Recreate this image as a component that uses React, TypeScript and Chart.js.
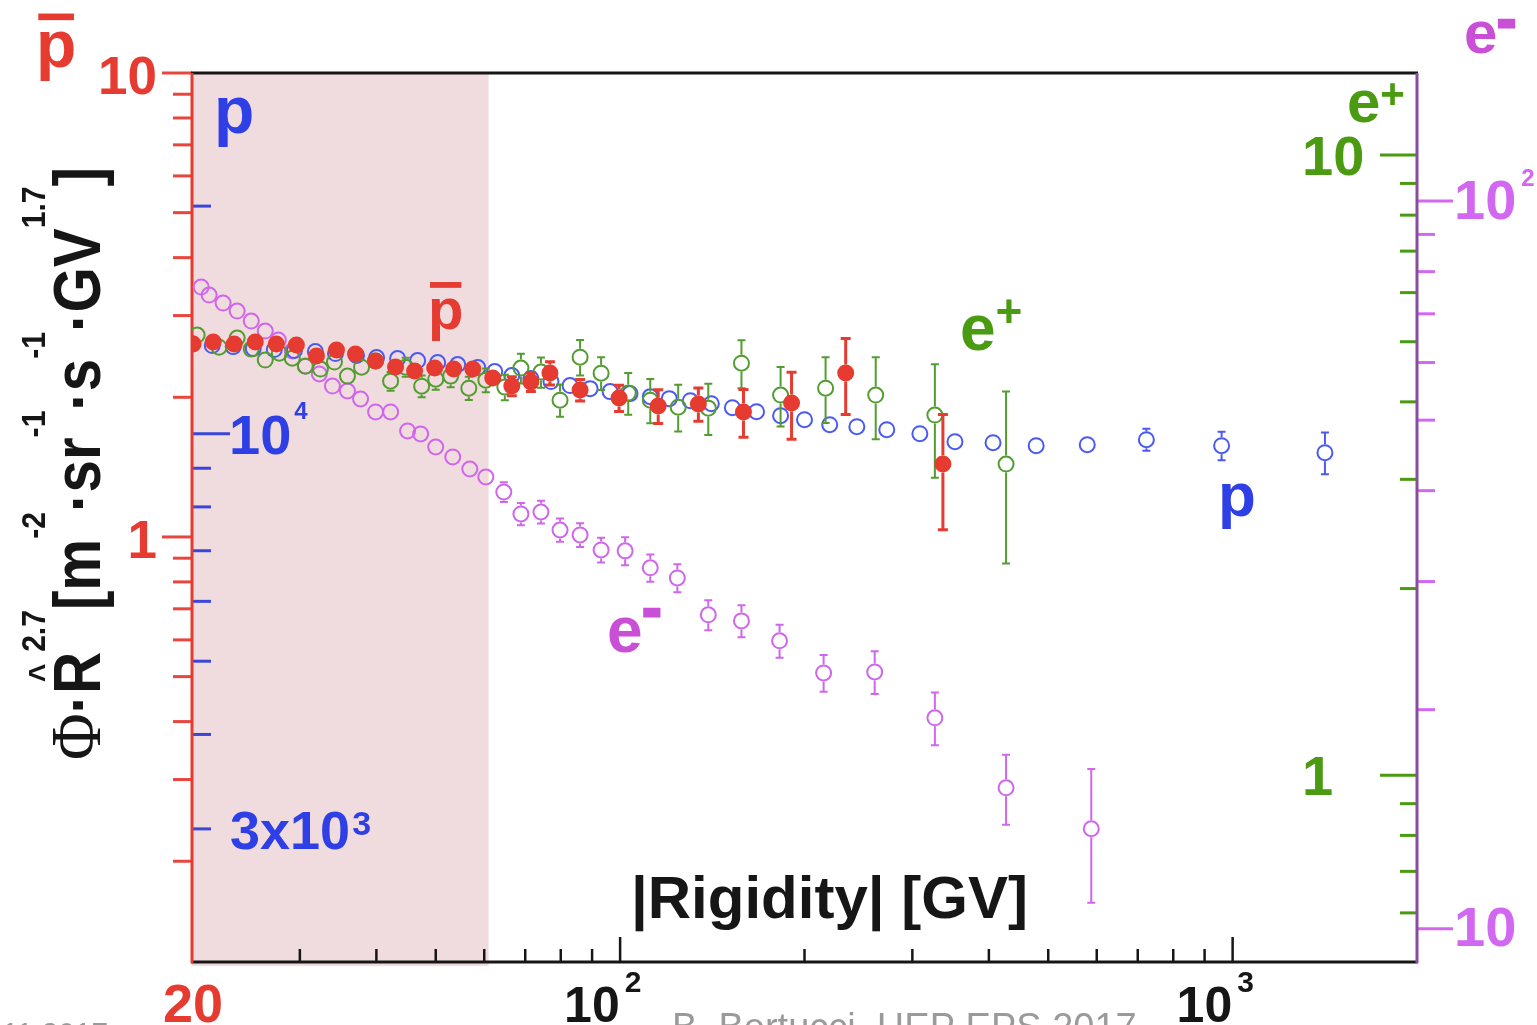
import React, { useEffect, useRef } from "react";
import { Chart, registerables } from "chart.js";

Chart.register(...registerables);

// ---------------- data ----------------
const xRange = [20, 2000];
const shadedBand = [20, 61];

const pbarRange = [0.1213, 10];
const pRange = [2000, 30000];
const eposRange = [0.5, 13.56];
const enegRange = [9, 150];

// protons (blue, open circles)
const pRigidity = [20.0, 21.58, 23.35, 25.18, 27.25, 29.39, 31.8, 34.3, 37.12, 40.03, 43.32, 46.71, 50.36, 54.3, 58.56, 62.42, 66.55, 71.5, 77.11, 82.83, 89.33, 96.3, 103.8, 112.0, 120.3, 130.2, 140.9, 152.5, 167.0, 182.8, 200.0, 219.9, 243.5, 272.5, 308.6, 352.1, 406.3, 477.8, 579.0, 723.1, 959.4, 1414.9];
const pFlux = [13155, 13078, 13036, 12960, 12920, 12880, 12840, 12764, 12687, 12610, 12570, 12494, 12418, 12343, 12230, 12082, 11935, 11826, 11720, 11576, 11470, 11366, 11297, 11194, 11126, 11058, 10957, 10824, 10693, 10564, 10436, 10278, 10216, 10122, 10000, 9759, 9729, 9641, 9670, 9819, 9641, 9437];
const pErr = [0, 0, 0, 0, 0, 0, 0, 0, 0, 0, 0, 0, 0, 0, 0, 0, 0, 0, 0, 0, 0, 0, 0, 0, 0, 0, 0, 0, 0, 0, 0, 0, 0, 0, 0, 0, 0, 0, 120, 330, 420, 600];

// antiprotons (red, filled circles)
const pbarRigidity = [20.08, 21.66, 23.44, 25.37, 27.46, 29.61, 31.93, 34.43, 36.98, 39.88, 42.99, 46.18, 49.8, 53.49, 57.47, 61.95, 66.55, 71.5, 76.81, 86.03, 99.6, 115.4, 134.2, 159.0, 190.5, 233.5, 336.5];
const pbarFlux = [2.605, 2.632, 2.605, 2.632, 2.605, 2.593, 2.455, 2.529, 2.48, 2.395, 2.325, 2.279, 2.313, 2.302, 2.302, 2.201, 2.116, 2.158, 2.257, 2.074, 1.993, 1.916, 1.935, 1.86, 1.944, 2.257, 1.437];
const pbarErr = [0.03, 0.03, 0.03, 0.03, 0.03, 0.03, 0.04, 0.04, 0.04, 0.05, 0.05, 0.05, 0.06, 0.06, 0.07, 0.08, 0.1, 0.1, 0.13, 0.11, 0.13, 0.16, 0.16, 0.22, 0.32, 0.42, 0.4];

// positrons (green, open circles)
const eposRigidity = [20.39, 22.14, 23.7, 24.99, 26.34, 27.77, 29.16, 30.63, 32.41, 34.17, 35.88, 37.83, 39.88, 42.2, 44.66, 47.42, 50.0, 52.89, 56.62, 60.36, 64.83, 68.87, 74.26, 79.78, 86.03, 93.1, 103.1, 112.0, 124.4, 139.3, 157.8, 182.8, 216.5, 261.4, 326.5, 426.7];
const eposFlux = [5.125, 4.901, 5.068, 4.865, 4.671, 4.793, 4.705, 4.567, 4.517, 4.636, 4.401, 4.55, 4.653, 4.32, 4.55, 4.24, 4.352, 4.401, 4.209, 4.336, 4.225, 4.534, 4.467, 4.025, 4.722, 4.45, 4.132, 4.025, 3.922, 3.908, 4.618, 4.102, 4.209, 4.102, 3.808, 3.175];
const eposErr = [0.08, 0.08, 0.09, 0.09, 0.1, 0.1, 0.11, 0.11, 0.12, 0.12, 0.13, 0.14, 0.14, 0.15, 0.16, 0.17, 0.17, 0.18, 0.18, 0.19, 0.2, 0.25, 0.25, 0.24, 0.31, 0.27, 0.32, 0.33, 0.34, 0.37, 0.41, 0.45, 0.51, 0.62, 0.79, 0.98];

// electrons (magenta, open circles)
const enegRigidity = [20.7, 21.33, 22.48, 23.7, 24.99, 26.34, 27.67, 29.16, 30.63, 32.28, 33.91, 35.88, 37.69, 39.88, 42.2, 44.98, 47.24, 50.0, 53.3, 56.83, 60.36, 64.58, 68.87, 74.26, 79.78, 86.03, 93.1, 101.9, 112.0, 124.0, 139.3, 157.8, 182.1, 214.9, 260.4, 326.5, 426.7, 587.8];
const enegFlux = [76.19, 74.28, 72.43, 70.62, 68.42, 66.29, 64.43, 62.23, 59.34, 57.86, 55.7, 54.83, 53.46, 51.32, 51.32, 48.32, 47.86, 45.93, 44.5, 42.84, 41.77, 39.83, 37.16, 37.39, 35.32, 34.77, 33.16, 33.06, 31.33, 30.35, 27.0, 26.49, 24.87, 22.47, 22.54, 19.49, 15.62, 13.72];
const enegErr = [0.5, 0.5, 0.5, 0.5, 0.5, 0.5, 0.5, 0.5, 0.6, 0.6, 0.6, 0.6, 0.6, 0.7, 0.7, 0.7, 0.8, 0.8, 0.8, 0.9, 0.9, 1.25, 1.3, 1.35, 1.3, 1.3, 1.3, 1.46, 1.34, 1.34, 1.28, 1.34, 1.3, 1.31, 1.53, 1.62, 1.72, 2.86];

// ticks
const xMajorTicks = [100, 1000];
const xMinorTicks = [30, 40, 50, 60, 70, 80, 90, 200, 300, 400, 500, 600, 700, 800, 900];
const pbarMajorTicks = [1, 10];
const pbarMinorTicks = [0.2, 0.3, 0.4, 0.5, 0.6, 0.7, 0.8, 0.9, 2, 3, 4, 5, 6, 7, 8, 9];
const pMajorTicks = [10000];
const pMinorTicks = [3000, 4000, 5000, 6000, 7000, 8000, 9000, 20000];
const eposMajorTicks = [1, 10];
const eposMinorTicks = [0.6, 0.7, 0.8, 0.9, 2, 3, 4, 5, 6, 7, 8, 9];
const enegMajorTicks = [10, 100];
const enegMinorTicks = [20, 30, 40, 50, 60, 70, 80, 90];

// tick labels
const xLabelValues = [100, 1000];
const xLabelBases = ["10", "10"];
const xLabelSups = ["2", "3"];
const pbarLabelValues = [10, 1];
const pbarLabelTexts = ["10", "1"];
const eposLabelValues = [10, 1];
const eposLabelTexts = ["10", "1"];

const xTitle = "|Rigidity| [GV]";
const footerText = "B. Bertucci, HEP EPS 2017";
const dateText = "11.2017";

// ---------------- style ----------------
const C = {
  red: "#e63b30",
  redTick: "#e8463c",
  blue: "#2f3fe6",
  blueMarker: "#4a5af2",
  blueTick: "#3a46d8",
  green: "#4a9a12",
  greenMarker: "#529c30",
  magenta: "#c950d6",
  magentaMarker: "#cf66ec",
  magentaTick: "#d268f2",
  purpleAxis: "#8a4c9e",
  shade: "#f0dcde",
  black: "#161616",
  gray: "#9a9a9a",
};

const SANS = '"Liberation Sans", Arial, Helvetica, sans-serif';
const SERIF = '"Liberation Serif", "Times New Roman", serif';
const f = (size: number, bold = true, fam = SANS) => `${bold ? "bold " : ""}${size}px ${fam}`;

type Seg = { t: string; font: string; dy?: number; dx?: number; stroke?: number };

function segsWidth(ctx: CanvasRenderingContext2D, segs: Seg[]) {
  let w = 0;
  for (const s of segs) {
    ctx.font = s.font;
    w += ctx.measureText(s.t).width + (s.dx || 0);
  }
  return w;
}

function drawSegs(ctx: CanvasRenderingContext2D, segs: Seg[], x: number, y: number, color: string, align: "left" | "right" | "center" = "left") {
  const total = segsWidth(ctx, segs);
  let cx = align === "left" ? x : align === "right" ? x - total : x - total / 2;
  ctx.save();
  ctx.fillStyle = color;
  ctx.strokeStyle = color;
  ctx.textAlign = "left";
  ctx.textBaseline = "alphabetic";
  for (const s of segs) {
    ctx.font = s.font;
    cx += s.dx || 0;
    const w = ctx.measureText(s.t).width;
    ctx.fillText(s.t, cx, y + (s.dy || 0));
    if (s.stroke) {
      ctx.lineWidth = s.stroke;
      ctx.strokeText(s.t, cx, y + (s.dy || 0));
    }
    cx += w;
  }
  ctx.restore();
}

function drawPBar(ctx: CanvasRenderingContext2D, x: number, baseline: number, size: number) {
  drawSegs(ctx, [{ t: "p", font: f(size) }], x, baseline, C.red);
  ctx.save();
  ctx.fillStyle = C.red;
  ctx.fillRect(x + 0.035 * size, baseline - 0.81 * size, 0.54 * size, 0.1 * size);
  ctx.restore();
}

function hTick(ctx: CanvasRenderingContext2D, x0: number, x1: number, y: number) {
  ctx.beginPath();
  ctx.moveTo(x0, y);
  ctx.lineTo(x1, y);
  ctx.stroke();
}

const overlayPlugin = {
  id: "overlay",
  beforeDatasetsDraw(chart: any) {
    const ctx: CanvasRenderingContext2D = chart.ctx;
    const { left, right, top, bottom } = chart.chartArea;
    const sx = chart.scales.x;
    ctx.save();
    // shaded band
    const b0 = sx.getPixelForValue(shadedBand[0]);
    const b1 = sx.getPixelForValue(shadedBand[1]);
    ctx.fillStyle = C.shade;
    ctx.fillRect(b0, top, b1 - b0, bottom - top + 4);

    // x ticks (bottom, pointing up)
    ctx.strokeStyle = C.black;
    ctx.lineWidth = 2.5;
    for (const v of xMajorTicks) {
      const px = sx.getPixelForValue(v);
      ctx.beginPath(); ctx.moveTo(px, bottom); ctx.lineTo(px, bottom - 25); ctx.stroke();
    }
    for (const v of xMinorTicks) {
      const px = sx.getPixelForValue(v);
      ctx.beginPath(); ctx.moveTo(px, bottom); ctx.lineTo(px, bottom - 13); ctx.stroke();
    }

    // left: antiproton ticks (red, outside)
    const yPb = chart.scales.yPbar;
    ctx.strokeStyle = C.redTick;
    ctx.lineWidth = 3;
    for (const v of pbarMajorTicks) hTick(ctx, left - 30, left, yPb.getPixelForValue(v));
    for (const v of pbarMinorTicks) hTick(ctx, left - 19, left, yPb.getPixelForValue(v));

    // left: proton ticks (blue, inside)
    const yP = chart.scales.yP;
    ctx.strokeStyle = C.blueTick;
    for (const v of pMajorTicks) hTick(ctx, left, left + 38, yP.getPixelForValue(v));
    for (const v of pMinorTicks) hTick(ctx, left, left + 19, yP.getPixelForValue(v));

    // right: positron ticks (green, inside)
    const yE = chart.scales.yEpos;
    ctx.strokeStyle = C.green;
    for (const v of eposMajorTicks) hTick(ctx, right - 37, right, yE.getPixelForValue(v));
    for (const v of eposMinorTicks) hTick(ctx, right - 17, right, yE.getPixelForValue(v));

    // right: electron ticks (magenta, outside)
    const yN = chart.scales.yEneg;
    ctx.strokeStyle = C.magentaTick;
    for (const v of enegMajorTicks) hTick(ctx, right, right + 36, yN.getPixelForValue(v));
    for (const v of enegMinorTicks) hTick(ctx, right, right + 18, yN.getPixelForValue(v));

    // frame
    ctx.lineWidth = 3;
    ctx.strokeStyle = C.black;
    hTick(ctx, left - 1, right + 1, top);
    hTick(ctx, left - 1, right + 1, bottom);
    ctx.strokeStyle = C.red;
    ctx.beginPath(); ctx.moveTo(left, top); ctx.lineTo(left, bottom + 1); ctx.stroke();
    ctx.strokeStyle = C.purpleAxis;
    ctx.beginPath(); ctx.moveTo(right, top); ctx.lineTo(right, bottom + 1); ctx.stroke();
    ctx.restore();
  },
  afterDatasetDraw(chart: any, args: any) {
    const ds: any = chart.data.datasets[args.index];
    const errs: number[] = ds.errors;
    if (!errs) return;
    const ys = chart.scales[ds.yAxisID];
    const ctx: CanvasRenderingContext2D = chart.ctx;
    const r = ds.pointRadius + 1;
    const cap = ds.capHalf;
    ctx.save();
    ctx.strokeStyle = ds.errColor;
    ctx.lineWidth = ds.errWidth;
    args.meta.data.forEach((pt: any, i: number) => {
      const e = errs[i];
      if (!e) return;
      const v = ds.data[i].y;
      const yt = ys.getPixelForValue(v + e);
      const yb = ys.getPixelForValue(Math.max(v - e, 1e-6));
      const cx = pt.x, cy = pt.y;
      ctx.beginPath();
      if (cy - yt > r) {
        ctx.moveTo(cx, cy - r); ctx.lineTo(cx, yt);
        ctx.moveTo(cx - cap, yt); ctx.lineTo(cx + cap, yt);
      }
      if (yb - cy > r) {
        ctx.moveTo(cx, cy + r); ctx.lineTo(cx, yb);
        ctx.moveTo(cx - cap, yb); ctx.lineTo(cx + cap, yb);
      }
      ctx.stroke();
    });
    ctx.restore();
  },
  afterDraw(chart: any) {
    const ctx: CanvasRenderingContext2D = chart.ctx;
    const sx = chart.scales.x;
    const yPb = chart.scales.yPbar;
    const yP = chart.scales.yP;
    const yE = chart.scales.yEpos;
    const yN = chart.scales.yEneg;
    const { left, right, bottom } = chart.chartArea;

    // red (pbar) tick labels
    pbarLabelValues.forEach((v, i) => {
      drawSegs(ctx, [{ t: pbarLabelTexts[i], font: f(53) }], 157, yPb.getPixelForValue(v) + 21, C.red, "right");
    });
    // x labels
    drawSegs(ctx, [{ t: "20", font: f(54) }], sx.getPixelForValue(xRange[0]) + 1, bottom + 60, C.red, "center");
    xLabelValues.forEach((v, i) => {
      drawSegs(ctx, [{ t: xLabelBases[i], font: f(50) }, { t: xLabelSups[i], font: f(30), dy: -30, dx: 5 }], sx.getPixelForValue(v) - 56, bottom + 60, C.black);
    });
    // blue (p) labels
    drawSegs(ctx, [{ t: "10", font: f(56) }, { t: "4", font: f(24), dy: -35, dx: 3 }], left + 37, yP.getPixelForValue(10000) + 20, C.blue);
    drawSegs(ctx, [{ t: "3x10", font: f(54) }, { t: "3", font: f(34), dy: -14, dx: 2 }], left + 38, yP.getPixelForValue(3000) + 20, C.blue);
    // green (e+) labels
    eposLabelValues.forEach((v, i) => {
      drawSegs(ctx, [{ t: eposLabelTexts[i], font: f(56) }], 1302, yE.getPixelForValue(v) + 20, C.green);
    });
    // magenta (e-) labels
    drawSegs(ctx, [{ t: "10", font: f(56) }, { t: "2", font: f(24), dy: -33, dx: 5 }], right + 37, yN.getPixelForValue(100) + 18, C.magentaTick);
    drawSegs(ctx, [{ t: "10", font: f(56) }], right + 37, yN.getPixelForValue(10) + 17, C.magentaTick);

    // series labels
    drawPBar(ctx, 36, 67, 66);
    drawPBar(ctx, 428, 329, 58);
    drawSegs(ctx, [{ t: "p", font: f(66) }], 214, 133, C.blue);
    drawSegs(ctx, [{ t: "p", font: f(62) }], 1218, 516, C.blue);
    drawSegs(ctx, [{ t: "e", font: f(64) }, { t: "+", font: f(46), dy: -23 }], 960, 350, C.green);
    drawSegs(ctx, [{ t: "e", font: f(60) }, { t: "+", font: f(42), dy: -14 }], 1347, 122, C.green);
    drawSegs(ctx, [{ t: "e", font: f(64) }, { t: "-", font: f(56), dy: -25, stroke: 3 }], 607, 652, C.magenta);
    drawSegs(ctx, [{ t: "e", font: f(60) }, { t: "-", font: f(56), dy: -15, stroke: 3 }], 1464, 53, C.magenta);

    // x title
    drawSegs(ctx, [{ t: xTitle, font: f(60) }], 631, 918, C.black);

    // y title (rotated)
    const M = f(66);
    const S = f(34);
    const segs: (Seg & { hat?: boolean })[] = [
      { t: "\u03A6", font: f(72, false, SERIF) },
      { t: "\u00B7", font: M },
      { t: "R", font: M, hat: true },
      { t: "2.7", font: S, dy: -55 },
      { t: "[", font: M },
      { t: "m", font: M },
      { t: "-2", font: S, dy: -55 },
      { t: "\u00B7", font: M },
      { t: "sr", font: M },
      { t: "-1", font: S, dy: -55 },
      { t: "\u00B7", font: M },
      { t: "s", font: M },
      { t: "-1", font: S, dy: -55 },
      { t: "\u00B7", font: M },
      { t: "GV", font: M },
      { t: "1.7", font: S, dy: -55 },
      { t: "]", font: M },
    ];
    const total = segsWidth(ctx, segs);
    const target = 760 - 167;
    ctx.save();
    ctx.translate(100, 760);
    ctx.rotate(-Math.PI / 2);
    ctx.scale(target / total, 1);
    ctx.fillStyle = C.black;
    ctx.textBaseline = "alphabetic";
    let cx = 0;
    for (const s of segs) {
      ctx.font = s.font;
      ctx.textAlign = "left";
      const w = ctx.measureText(s.t).width;
      ctx.fillText(s.t, cx, s.dy || 0);
      if (s.hat) {
        ctx.font = f(36);
        ctx.textAlign = "center";
        ctx.fillText("^", cx + w / 2, -46);
      }
      cx += w;
    }
    ctx.restore();

    // footer (partially cut by the page edge)
    drawSegs(ctx, [{ t: footerText, font: f(38, false) }], 672, 1040, C.gray);
    drawSegs(ctx, [{ t: dateText, font: f(30, false) }], 2, 1043, C.gray);
  },
};

export default function App() {
  const ref = useRef<HTMLCanvasElement | null>(null);

  useEffect(() => {
    if (!ref.current) return;
    const mk = (xs: number[], ys: number[]) => xs.map((x, i) => ({ x, y: ys[i] }));
    const chart = new Chart(ref.current, {
      type: "scatter",
      data: {
        datasets: [
          {
            label: "pbar",
            data: mk(pbarRigidity, pbarFlux),
            yAxisID: "yPbar",
            order: 1,
            pointStyle: "circle",
            pointRadius: 7.5,
            pointBorderWidth: 2,
            pointBackgroundColor: C.red,
            pointBorderColor: C.red,
            errors: pbarErr,
            errColor: C.red,
            errWidth: 3,
            capHalf: 5,
          } as any,
          {
            label: "e+",
            data: mk(eposRigidity, eposFlux),
            yAxisID: "yEpos",
            order: 2,
            pointStyle: "circle",
            pointRadius: 7.5,
            pointBorderWidth: 2,
            pointBackgroundColor: "rgba(0,0,0,0)",
            pointBorderColor: C.greenMarker,
            errors: eposErr,
            errColor: C.greenMarker,
            errWidth: 2,
            capHalf: 4,
          } as any,
          {
            label: "p",
            data: mk(pRigidity, pFlux),
            yAxisID: "yP",
            order: 3,
            pointStyle: "circle",
            pointRadius: 7.5,
            pointBorderWidth: 2,
            pointBackgroundColor: "rgba(0,0,0,0)",
            pointBorderColor: C.blueMarker,
            errors: pErr,
            errColor: C.blueMarker,
            errWidth: 2,
            capHalf: 4,
          } as any,
          {
            label: "e-",
            data: mk(enegRigidity, enegFlux),
            yAxisID: "yEneg",
            order: 4,
            pointStyle: "circle",
            pointRadius: 7.5,
            pointBorderWidth: 2,
            pointBackgroundColor: "rgba(0,0,0,0)",
            pointBorderColor: C.magentaMarker,
            errors: enegErr,
            errColor: C.magentaMarker,
            errWidth: 2,
            capHalf: 4,
          } as any,
        ],
      },
      options: {
        responsive: false,
        animation: false,
        events: [],
        layout: { padding: { left: 192, right: 120, top: 73, bottom: 63 } },
        plugins: { legend: { display: false }, tooltip: { enabled: false } },
        scales: {
          x: { type: "logarithmic", min: xRange[0], max: xRange[1], display: false },
          y: { display: false },
          yPbar: { axis: "y", type: "logarithmic", min: pbarRange[0], max: pbarRange[1], display: false },
          yP: { axis: "y", type: "logarithmic", min: pRange[0], max: pRange[1], display: false },
          yEpos: { axis: "y", type: "logarithmic", min: eposRange[0], max: eposRange[1], display: false },
          yEneg: { axis: "y", type: "logarithmic", min: enegRange[0], max: enegRange[1], display: false },
        },
      } as any,
      plugins: [overlayPlugin as any],
    });
    return () => chart.destroy();
  }, []);

  return (
    <div style={{ position: "absolute", left: 0, top: 0, width: 1537, height: 1025, background: "#fff", overflow: "hidden" }}>
      <canvas ref={ref} width={1537} height={1025} style={{ display: "block" }} />
    </div>
  );
}
